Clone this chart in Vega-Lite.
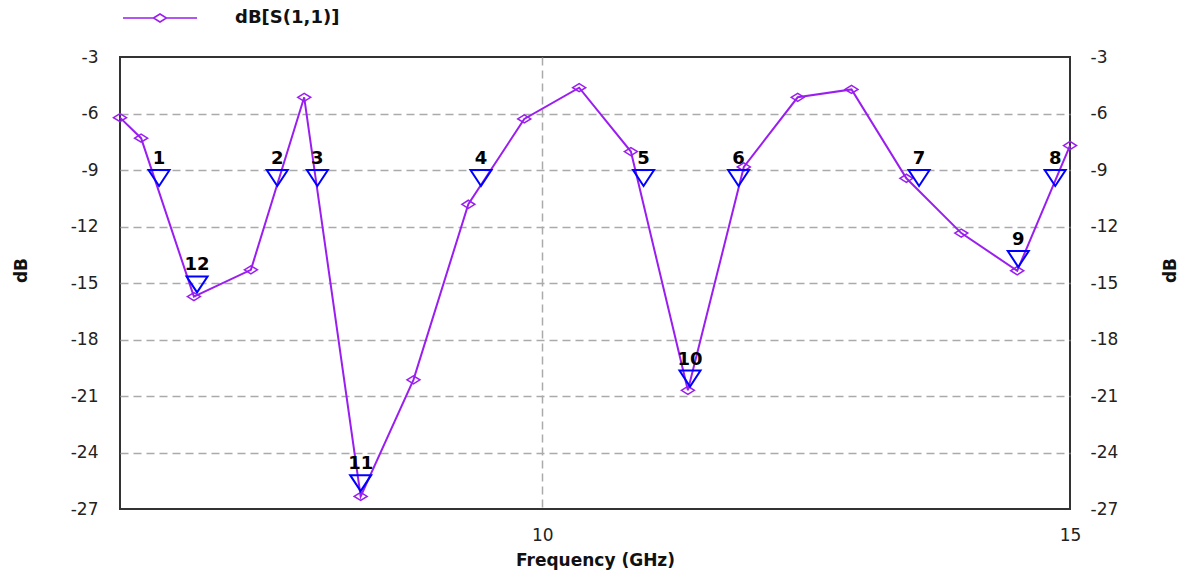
{
  "$schema": "https://vega.github.io/schema/vega-lite/v6.json",
  "width": 950,
  "height": 452,
  "autosize": {"type": "none"},
  "padding": {"left": 120, "top": 57, "right": 115, "bottom": 62},
  "background": "white",
  "config": {
    "view": {"stroke": "#333333", "strokeWidth": 2},
    "font": "DejaVu Sans"
  },
  "datasets": {
    "curve": [
      {"freq": 6.0, "db": -6.22, "series": "dB[S(1,1)]"},
      {"freq": 6.2, "db": -7.31, "series": "dB[S(1,1)]"},
      {"freq": 6.7, "db": -15.72, "series": "dB[S(1,1)]"},
      {"freq": 7.24, "db": -14.3, "series": "dB[S(1,1)]"},
      {"freq": 7.745, "db": -5.14, "series": "dB[S(1,1)]"},
      {"freq": 8.28, "db": -26.33, "series": "dB[S(1,1)]"},
      {"freq": 8.78, "db": -20.14, "series": "dB[S(1,1)]"},
      {"freq": 9.3, "db": -10.82, "series": "dB[S(1,1)]"},
      {"freq": 9.83, "db": -6.29, "series": "dB[S(1,1)]"},
      {"freq": 10.35, "db": -4.63, "series": "dB[S(1,1)]"},
      {"freq": 10.84, "db": -8.02, "series": "dB[S(1,1)]"},
      {"freq": 11.38, "db": -20.7, "series": "dB[S(1,1)]"},
      {"freq": 11.91, "db": -8.84, "series": "dB[S(1,1)]"},
      {"freq": 12.42, "db": -5.14, "series": "dB[S(1,1)]"},
      {"freq": 12.93, "db": -4.72, "series": "dB[S(1,1)]"},
      {"freq": 13.45, "db": -9.44, "series": "dB[S(1,1)]"},
      {"freq": 13.97, "db": -12.35, "series": "dB[S(1,1)]"},
      {"freq": 14.5, "db": -14.35, "series": "dB[S(1,1)]"},
      {"freq": 15.0, "db": -7.7, "series": "dB[S(1,1)]"}
    ],
    "markers": [
      {"freq": 6.37, "db": -9.85, "label": "1"},
      {"freq": 7.49, "db": -9.85, "label": "2"},
      {"freq": 7.87, "db": -9.85, "label": "3"},
      {"freq": 9.42, "db": -9.85, "label": "4"},
      {"freq": 10.96, "db": -9.85, "label": "5"},
      {"freq": 11.86, "db": -9.85, "label": "6"},
      {"freq": 13.57, "db": -9.85, "label": "7"},
      {"freq": 14.86, "db": -9.85, "label": "8"},
      {"freq": 14.51, "db": -14.15, "label": "9"},
      {"freq": 11.4, "db": -20.5, "label": "10"},
      {"freq": 8.28, "db": -26.05, "label": "11"},
      {"freq": 6.73, "db": -15.5, "label": "12"}
    ]
  },
  "encoding": {
    "x": {
      "field": "freq",
      "type": "quantitative",
      "scale": {"domain": [6, 15], "nice": false, "zero": false},
      "axis": {
        "values": [10, 15],
        "grid": true,
        "gridDash": [8, 5],
        "gridColor": {"condition": {"test": "datum.value === 15", "value": "transparent"}, "value": "#aaaaaa"},
        "gridWidth": 1.5,
        "domain": false,
        "ticks": false,
        "labelFlush": false,
        "labelFontSize": 17,
        "labelColor": "#222222",
        "labelPadding": 18,
        "title": "Frequency (GHz)",
        "titleFontSize": 17,
        "titleFontWeight": "bold",
        "titleColor": "#111111",
        "titleY": 51,
        "titleBaseline": "middle"
      }
    }
  },
  "layer": [
    {
      "data": {"name": "curve"},
      "mark": {"type": "line", "strokeWidth": 2, "color": "#9a1ef0"},
      "encoding": {
        "y": {
          "field": "db",
          "type": "quantitative",
          "scale": {"domain": [-27, -3], "nice": false, "zero": false},
          "axis": {
            "orient": "left",
            "values": [-3, -6, -9, -12, -15, -18, -21, -24, -27],
            "labelExpr": "'-' + abs(datum.value)",
            "grid": true,
            "gridDash": [8, 5],
            "gridColor": {"condition": {"test": "datum.value === -3 || datum.value === -27", "value": "transparent"}, "value": "#aaaaaa"},
            "gridWidth": 1.5,
            "domain": false,
            "ticks": false,
            "labelFontSize": 17,
            "labelColor": "#222222",
            "labelPadding": 22,
            "title": "dB",
            "titleFontSize": 17,
            "titleFontWeight": "bold",
            "titleColor": "#111111",
            "titleAngle": -90,
            "titleX": -99,
            "titleY": 213,
            "titleAlign": "center",
            "titleBaseline": "middle"
          }
        },
        "color": {
          "field": "series",
          "type": "nominal",
          "scale": {"range": ["#9a1ef0"]},
          "legend": {
            "orient": "none",
            "legendX": 31,
            "legendY": -48,
            "title": null,
            "symbolType": "M-7.4,0L-1.3,0M1.3,0L7.4,0M-1.3,0L0,-0.8L1.3,0L0,0.8Z",
            "symbolSize": 100,
            "symbolStrokeWidth": 1.5,
            "symbolFillColor": "transparent",
            "labelFontSize": 18,
            "labelFontWeight": "bold",
            "labelColor": "#111111",
            "labelOffset": 66
          }
        }
      }
    },
    {
      "data": {"name": "curve"},
      "mark": {"type": "point", "shape": "M-1,0L0,-0.62L1,0L0,0.62Z", "size": 169, "filled": false, "strokeWidth": 1.5, "opacity": 1},
      "encoding": {
        "y": {
          "field": "db",
          "type": "quantitative",
          "axis": {
            "orient": "right",
            "values": [-3, -6, -9, -12, -15, -18, -21, -24, -27],
            "labelExpr": "'-' + abs(datum.value)",
            "grid": false,
            "domain": false,
            "ticks": false,
            "labelFontSize": 17,
            "labelColor": "#222222",
            "labelPadding": 20,
            "title": "dB",
            "titleFontSize": 17,
            "titleFontWeight": "bold",
            "titleColor": "#111111",
            "titleAngle": -90,
            "titleX": 100,
            "titleY": 213,
            "titleAlign": "center",
            "titleBaseline": "middle"
          }
        },
        "color": {
          "field": "series",
          "type": "nominal",
          "scale": {"range": ["#9a1ef0"]},
          "legend": null
        }
      }
    },
    {
      "data": {"name": "markers"},
      "mark": {"type": "point", "shape": "M-1,-1.52L1,-1.52L0,0Z", "size": 441, "filled": false, "color": "#0000ff", "strokeWidth": 2, "opacity": 1},
      "encoding": {
        "y": {"field": "db", "type": "quantitative", "axis": null}
      }
    },
    {
      "data": {"name": "markers"},
      "mark": {"type": "text", "dy": -22, "fontSize": 18, "fontWeight": "bold", "baseline": "alphabetic", "align": "center", "color": "#000000"},
      "encoding": {
        "y": {"field": "db", "type": "quantitative", "axis": null},
        "text": {"field": "label", "type": "nominal"}
      }
    }
  ],
  "resolve": {"axis": {"y": "independent"}}
}
